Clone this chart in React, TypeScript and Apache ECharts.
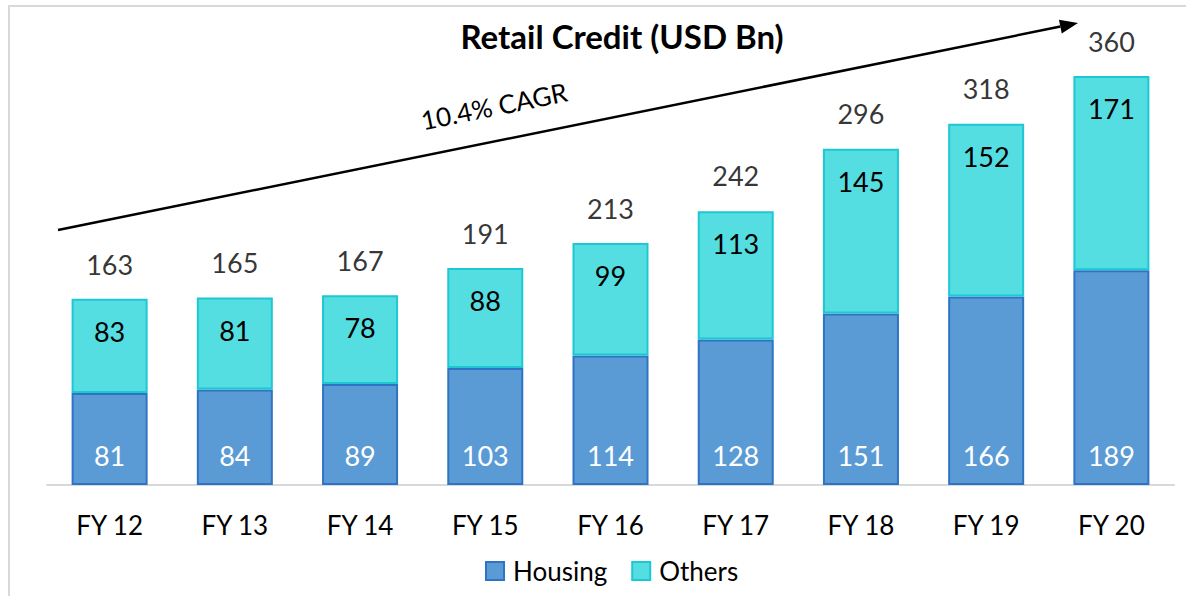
import React, { useEffect, useRef } from "react";
import * as echarts from "echarts";

const categories = ["FY 12", "FY 13", "FY 14", "FY 15", "FY 16", "FY 17", "FY 18", "FY 19", "FY 20"];
const housing = [81, 84, 89, 103, 114, 128, 151, 166, 189];
const others = [83, 81, 78, 88, 99, 113, 145, 152, 171];
const totals = [163, 165, 167, 191, 213, 242, 296, 318, 360];

const FONT = "Lato, 'Open Sans', sans-serif";

export default function App() {
  const ref = useRef<HTMLDivElement>(null);
  useEffect(() => {
    if (!ref.current) return;
    const chart = echarts.init(ref.current, undefined, { renderer: "svg" });
    // arrow geometry
    const sx = 58, sy = 230, tx = 1078, ty = 23;
    const dx = tx - sx, dy = ty - sy;
    const len = Math.sqrt(dx * dx + dy * dy);
    const ux = dx / len, uy = dy / len;
    const nx = -uy, ny = ux;
    const hl = 18, hw = 7;
    const bx = tx - hl * ux, by = ty - hl * uy;
    const angle = Math.atan2(-dy, dx);

    chart.setOption({
      animation: false,
      backgroundColor: "#ffffff",
      textStyle: { fontFamily: FONT },
      title: {
        text: "Retail Credit (USD Bn)",
        left: 617,
        top: 14,
        textAlign: "center",
        textStyle: { fontFamily: FONT, fontWeight: "bold", fontSize: 33, color: "#000" },
      },
      legend: {
        data: ["Housing", "Others"],
        left: 480,
        top: 553,
        icon: "rect",
        itemWidth: 18,
        itemHeight: 18,
        itemGap: 24,
        textStyle: { fontFamily: FONT, fontSize: 26, color: "#000", padding: [0, 0, 0, 4] },
      },
      grid: { left: 47, right: 12, top: 30.6, bottom: 111, containLabel: false },
      xAxis: {
        type: "category",
        data: categories,
        axisLine: { lineStyle: { color: "#d9d9d9", width: 2 } },
        axisTick: { show: false },
        axisLabel: { color: "#000", fontSize: 26, fontFamily: FONT, margin: 27 },
      },
      yAxis: {
        type: "value",
        min: 0,
        max: 400,
        show: false,
        splitLine: { show: false },
      },
      graphic: [
        {
          type: "rect",
          shape: { x: 9, y: 6, width: 1200, height: 620 },
          style: { fill: "none", stroke: "#d9d9d9", lineWidth: 2 },
          silent: true,
        },
        {
          type: "line",
          shape: { x1: sx, y1: sy, x2: bx, y2: by },
          style: { stroke: "#000", lineWidth: 2.5 },
          silent: true,
        },
        {
          type: "polygon",
          shape: {
            points: [
              [tx, ty],
              [bx + hw * nx, by + hw * ny],
              [bx - hw * nx, by - hw * ny],
            ],
          },
          style: { fill: "#000" },
          silent: true,
        },
        {
          type: "text",
          x: 494,
          y: 106,
          rotation: angle,
          style: {
            text: "10.4% CAGR",
            fontSize: 26,
            fontFamily: FONT,
            fill: "#000",
            textAlign: "center",
            textVerticalAlign: "middle",
          },
          silent: true,
        },
      ],
      series: [
        {
          name: "Housing",
          type: "bar",
          stack: "total",
          data: housing,
          barWidth: 76,
          itemStyle: { color: "#5B9BD5", borderColor: "#2E73C4", borderWidth: 2 },
          label: {
            show: true,
            position: "insideBottom",
            distance: 16,
            color: "#ffffff",
            fontSize: 27,
            fontFamily: FONT,
          },
        },
        {
          name: "Others",
          type: "bar",
          stack: "total",
          data: others,
          barWidth: 76,
          itemStyle: { color: "#54DEE2", borderColor: "#1CC8D2", borderWidth: 2 },
          label: {
            show: true,
            position: "insideTop",
            distance: 19,
            color: "#000",
            fontSize: 27,
            fontFamily: FONT,
          },
        },
        {
          name: "Total",
          type: "scatter",
          data: totals,
          symbolSize: 1,
          itemStyle: { color: "rgba(0,0,0,0)" },
          label: {
            show: true,
            position: "top",
            distance: 21,
            color: "#000",
            fontSize: 27,
            fontFamily: FONT,
          },
          silent: true,
        },
      ],
    });
    return () => chart.dispose();
  }, []);
  return (
    <div
      ref={ref}
      style={{ position: "fixed", left: 0, top: 0, width: 1186, height: 596 }}
    />
  );
}
